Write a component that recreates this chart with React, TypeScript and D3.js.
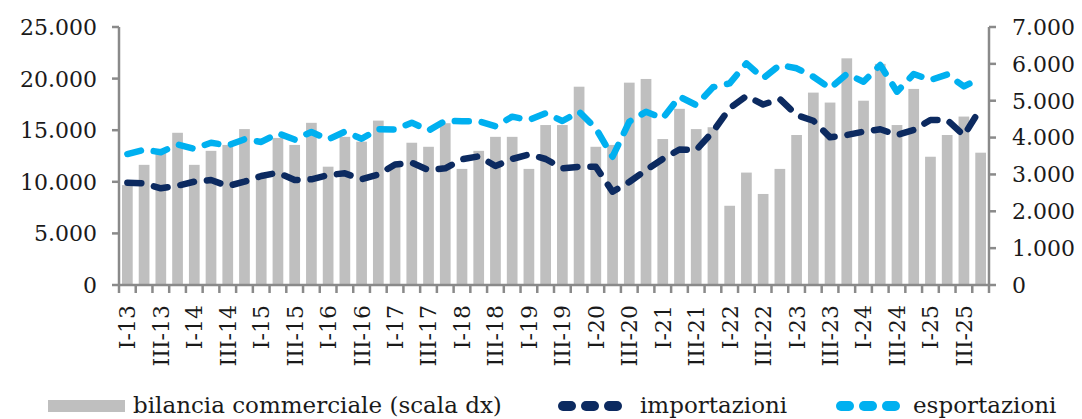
import * as d3 from "d3";
import { useEffect, useRef } from "react";

// quarters x years -> "I-13", "II-13", ...
const quarters = ["I", "II", "III", "IV"];
const years = ["13", "14", "15", "16", "17", "18", "19", "20", "21", "22", "23", "24", "25"];
const categories = years.flatMap((y) => quarters.map((q) => `${q}-${y}`));

// bilancia commerciale (scala dx)
const bilancia = [
  2710, 3260, 3580, 4130, 3260, 3640, 3800, 4230, 2980, 3990, 3800, 4400, 3210,
  4020, 3890, 4460, 3260, 3860, 3750, 4390, 3150, 3640, 4020, 4020, 3150, 4340,
  4340, 5380, 3750, 3800, 5490, 5590, 3960, 4780, 4230, 4280, 2150, 3050, 2470,
  3150, 4070, 5220, 4950, 6150, 5000, 6000, 4340, 5320, 3480, 4070, 4570, 3590,
];

const importazioni = [
  9910, 9850, 9370, 9620, 10010, 10170, 9590, 10010, 10560, 10880, 10170, 10240, 10660,
  10820, 10240, 10710, 11680, 11850, 11140, 11310, 12180, 12470, 11530, 12210, 12650, 12210,
  11310, 11460, 11460, 9040, 9980, 11140, 12210, 13130, 13080, 14860, 17120, 18310, 17490,
  18020, 16470, 15920, 14310, 14530, 14860, 15090, 14530, 15020, 15990, 15990, 14490, 17120,
];

const esportazioni = [
  12690, 13110, 12870, 13610, 13200, 13790, 13520, 14120, 13860, 14700, 14090, 14830, 14100,
  14860, 14170, 15100, 15060, 15730, 14970, 15910, 15860, 15860, 15380, 16310, 15990, 16640,
  15890, 16790, 15180, 12430, 15820, 16790, 16150, 18250, 17440, 19160, 19540, 21480, 20030,
  21320, 21000, 20180, 19060, 20450, 19700, 21320, 18730, 20450, 19860, 20400, 19250, 20060,
];

const leftTicks = [0, 5000, 10000, 15000, 20000, 25000];
const rightTicks = [0, 1000, 2000, 3000, 4000, 5000, 6000, 7000];

const FONT = "DejaVu Serif";
const NAVY = "#0c2a60";
const CYAN = "#00b0f0";
const GREY = "#bfbfbf";
const AXIS = "#8a8a8a";

const it = d3.formatLocale({ decimal: ",", thousands: ".", grouping: [3], currency: ["€", ""] });
const fmt = it.format(",");

const redraw = (ref) => {
  const svg = d3.select(ref.current);
  svg.selectAll("*").remove();

  const x1 = 119, x2 = 989, yTop = 27, yBot = 285;

  const x = d3.scaleBand().domain(categories).range([x1, x2]).paddingInner(0.36).paddingOuter(0.18);
  const yL = d3.scaleLinear().domain([0, 25000]).range([yBot, yTop]);
  const yR = d3.scaleLinear().domain([0, 7000]).range([yBot, yTop]);
  const step = (x2 - x1) / categories.length;

  // bars
  svg.append("g").selectAll("rect").data(bilancia).enter().append("rect")
    .attr("x", (d, i) => x(categories[i]))
    .attr("width", x.bandwidth())
    .attr("y", (d) => yR(d))
    .attr("height", (d) => yBot - yR(d))
    .attr("fill", GREY);

  // axes lines
  const ax = svg.append("g").attr("stroke", AXIS).attr("stroke-width", 2.5);
  ax.append("line").attr("x1", x1).attr("x2", x1).attr("y1", yTop).attr("y2", yBot);
  ax.append("line").attr("x1", x2).attr("x2", x2).attr("y1", yTop).attr("y2", yBot);
  ax.append("line").attr("x1", x1).attr("x2", x2).attr("y1", yBot).attr("y2", yBot);

  ax.selectAll(".tl").data(leftTicks).enter().append("line")
    .attr("x1", x1 - 7).attr("x2", x1).attr("y1", (d) => yL(d)).attr("y2", (d) => yL(d));
  ax.selectAll(".tr").data(rightTicks).enter().append("line")
    .attr("x1", x2).attr("x2", x2 + 7).attr("y1", (d) => yR(d)).attr("y2", (d) => yR(d));
  ax.selectAll(".tb").data(d3.range(categories.length + 1)).enter().append("line")
    .attr("x1", (k) => x1 + k * step).attr("x2", (k) => x1 + k * step)
    .attr("y1", yBot).attr("y2", yBot + 8);

  // tick labels
  const txt = svg.append("g").attr("font-family", FONT).attr("font-size", 22).attr("fill", "#1a1a1a");
  txt.selectAll(".ll").data(leftTicks).enter().append("text")
    .attr("x", 97).attr("y", (d) => yL(d)).attr("dy", "0.36em")
    .attr("text-anchor", "end").text((d) => fmt(d));
  txt.selectAll(".rl").data(rightTicks).enter().append("text")
    .attr("x", 1012).attr("y", (d) => yR(d)).attr("dy", "0.36em")
    .attr("text-anchor", "start").text((d) => fmt(d));
  txt.selectAll(".xl").data(categories.filter((c) => c.startsWith("I-") || c.startsWith("III-")))
    .enter().append("text")
    .attr("transform", (d) => `translate(${x(d) + x.bandwidth() / 2},305) rotate(-90)`)
    .attr("dy", "0.36em")
    .attr("text-anchor", "end")
    .text((d) => d);

  // lines
  const line = (s) => d3.line().x((d, i) => x(categories[i]) + x.bandwidth() / 2).y((d) => yL(d))(s);
  [[importazioni, NAVY], [esportazioni, CYAN]].forEach(([s, c]) => {
    svg.append("path").attr("d", line(s)).attr("fill", "none")
      .attr("stroke", c).attr("stroke-width", 6.5)
      .attr("stroke-linecap", "round").attr("stroke-linejoin", "round")
      .attr("stroke-dasharray", "14 13");
  });

  // legend
  const lg = svg.append("g").attr("font-family", FONT).attr("font-size", 23).attr("fill", "#1a1a1a");
  lg.append("rect").attr("x", 48).attr("y", 400).attr("width", 77).attr("height", 12).attr("fill", GREY);
  lg.append("text").attr("x", 133).attr("y", 413).text("bilancia commerciale (scala dx)");
  const dashes = (x0, c) => {
    [0, 1, 2].forEach((k) => {
      lg.append("rect").attr("x", x0 + k * 23).attr("y", 401).attr("width", 18).attr("height", 10)
        .attr("rx", 5).attr("fill", c);
    });
  };
  dashes(558, NAVY);
  lg.append("text").attr("x", 640).attr("y", 413).text("importazioni");
  dashes(836, CYAN);
  lg.append("text").attr("x", 913).attr("y", 413).text("esportazioni");
};

export default function App() {
  const ref = useRef(null);
  useEffect(() => {
    redraw(ref);
  }, []);
  return (
    <svg ref={ref} width={1082} height={419}
      style={{ position: "absolute", left: 0, top: 0, background: "#fff" }} />
  );
}
